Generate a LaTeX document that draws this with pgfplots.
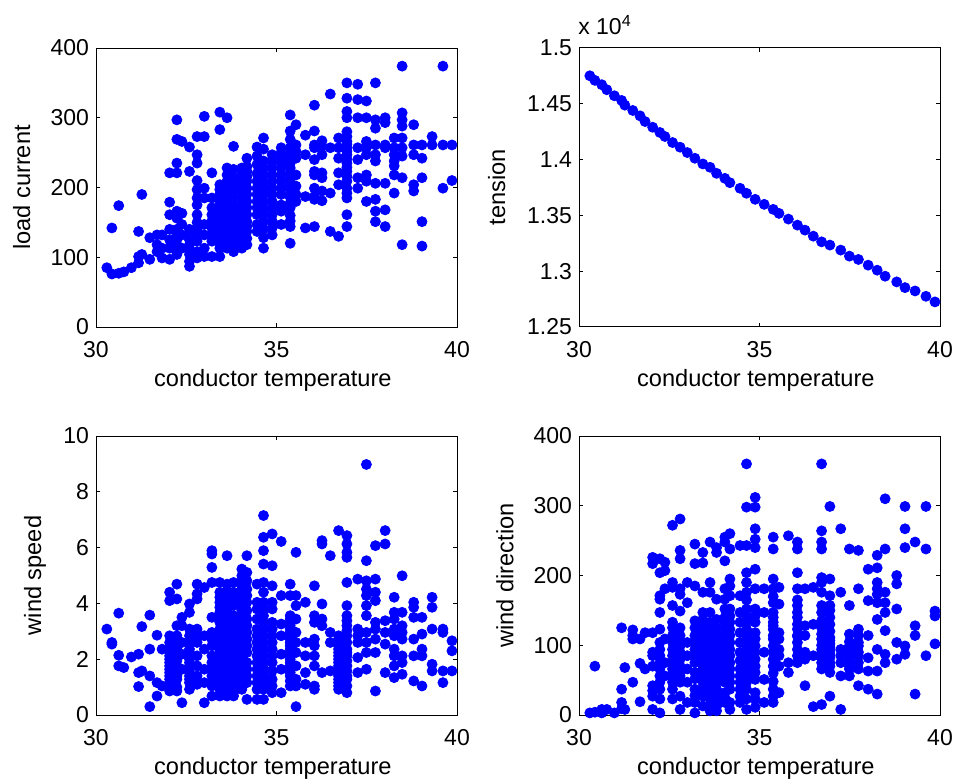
\documentclass[border=0pt]{standalone}
\usepackage{fontspec}
\setmainfont{Liberation Sans}
\usepackage{pgfplots}
\pgfplotsset{compat=1.18}

\pgfplotsset{
  panel/.style={
    scale only axis, width=180.5pt, height=139.5pt,
    anchor=south west, clip=false,
    xmin=30, xmax=40, xtick={30,35,40},
    tick align=inside, major tick length=2pt,
    axis line style={line width=0.5pt},
    every tick/.style={black, line width=0.5pt},
    /pgf/number format/assume math mode=true,
    tick label style={font=\fontsize{11.5}{13}\selectfont},
    xticklabel style={yshift=-3.5pt},
    label style={font=\fontsize{11.8}{14}\selectfont},
    xlabel={conductor temperature},
    xlabel style={at={(axis description cs:0.49,-0.19)}, anchor=center},
  },
  dots/.style={only marks, mark=*, mark size=2.5pt,
    mark options={draw=blue, fill=blue}},
}

\begin{document}
\begin{tikzpicture}
\useasboundingbox (0,0) rectangle (478pt,391pt);

% load current
\begin{axis}[panel, at={(48pt,227.5pt)},
  ymin=0, ymax=400, ytick={0,100,200,300,400},
  ylabel={load current},
  ylabel style={at={(axis description cs:-0.206,0.5)}, anchor=center}]
\addplot[dots] coordinates {
(30.30,85)
(30.44,76) (30.44,142)
(30.63,77) (30.63,174)
(30.77,79)
(30.98,85)
(31.18,92) (31.18,101) (31.18,137)
(31.27,104) (31.27,190)
(31.49,97) (31.49,128)
(31.69,132) (31.69,108) (31.69,118)
(31.83,132) (31.83,113) (31.83,99)
(32.04,221) (32.04,179) (32.04,161) (32.04,140) (32.04,125) (32.04,113) (32.04,97)
(32.24,297) (32.24,269) (32.24,235) (32.24,221) (32.24,166) (32.24,156) (32.24,132) (32.24,118) (32.24,104)
(32.38,266) (32.38,163) (32.38,147) (32.38,132) (32.38,113)
(32.59,258) (32.59,223) (32.59,132) (32.59,118) (32.59,104) (32.59,87) (32.59,94)
(32.80,273) (32.80,247) (32.80,235) (32.80,197) (32.80,175) (32.80,161) (32.80,140) (32.80,123) (32.80,108) (32.80,99)
(33.00,273) (33.00,302) (33.00,199) (33.00,185) (33.00,147) (33.00,132) (33.00,113) (33.00,101)
(33.21,221) (33.21,185) (33.21,161) (33.21,142) (33.21,123) (33.21,101)
(33.43,308) (33.43,283) (33.43,204) (33.43,190) (33.43,171) (33.43,156) (33.43,142) (33.43,128) (33.43,113) (33.43,101)
(33.63,300) (33.63,228) (33.63,209) (33.63,195) (33.63,175) (33.63,161) (33.63,147) (33.63,132) (33.63,113)
(33.81,259) (33.81,226) (33.81,214) (33.81,195) (33.81,175) (33.81,161) (33.81,142) (33.81,128) (33.81,108)
(34.04,228) (34.04,209) (34.04,195) (34.04,175) (34.04,156) (34.04,142) (34.04,123) (34.04,113)
(34.18,242) (34.18,223) (34.18,209) (34.18,190) (34.18,171) (34.18,151) (34.18,137) (34.18,118)
(34.46,258) (34.46,233) (34.46,209) (34.46,190) (34.46,171) (34.46,161) (34.46,137)
(34.64,271) (34.64,238) (34.64,218) (34.64,199) (34.64,180) (34.64,161) (34.64,151) (34.64,128) (34.64,113)
(34.88,247) (34.88,228) (34.88,209) (34.88,190) (34.88,171) (34.88,142) (34.88,132)
(35.13,257) (35.13,242) (35.13,228) (35.13,218) (35.13,209) (35.13,199) (35.13,166) (35.13,147)
(35.38,304) (35.38,281) (35.38,269) (35.38,257) (35.38,247) (35.38,235) (35.38,221) (35.38,204) (35.38,190) (35.38,178) (35.38,171) (35.38,144) (35.38,120)
(35.54,290) (35.54,261) (35.54,252) (35.54,242) (35.54,218) (35.54,202) (35.54,190) (35.54,180)
(35.80,275) (35.80,247) (35.80,187) (35.80,142)
(36.05,318) (36.05,281) (36.05,261) (36.05,257) (36.05,240) (36.05,223) (36.05,218) (36.05,199) (36.05,187) (36.05,183) (36.05,144)
(36.26,267) (36.26,259) (36.26,247) (36.26,221) (36.26,214) (36.26,195) (36.26,181)
(36.49,334) (36.49,257) (36.49,192) (36.49,137)
(36.72,271) (36.72,257) (36.72,242) (36.72,221) (36.72,204) (36.72,130)
(36.95,350) (36.95,328) (36.95,309) (36.95,300) (36.95,273) (36.95,266) (36.95,257) (36.95,247) (36.95,235) (36.95,223) (36.95,209) (36.95,199) (36.95,185) (36.95,161) (36.95,144)
(37.25,348) (37.25,326) (37.25,300) (37.25,257) (37.25,240) (37.25,214) (37.25,199)
(37.49,324) (37.49,300) (37.49,266) (37.49,257) (37.49,247) (37.49,218) (37.49,209) (37.49,180)
(37.74,350) (37.74,297) (37.74,285) (37.74,261) (37.74,247) (37.74,238) (37.74,206) (37.74,183) (37.74,166) (37.74,151)
(38.01,300) (38.01,293) (38.01,261) (38.01,257) (38.01,206) (38.01,168) (38.01,144)
(38.26,271) (38.26,257) (38.26,247) (38.26,238) (38.26,231) (38.26,218) (38.26,192)
(38.48,374) (38.48,307) (38.48,297) (38.48,288) (38.48,271) (38.48,257) (38.48,245) (38.48,214) (38.48,118)
(38.80,290) (38.80,261) (38.80,247) (38.80,204) (38.80,195)
(39.03,261) (39.03,242) (39.03,214) (39.03,151) (39.03,116)
(39.31,273) (39.31,261)
(39.61,374) (39.61,261) (39.61,199)
(39.86,261) (39.86,210)
};
% points hidden inside the dense columns
\addplot[dots] coordinates {
(32.24,110) (32.24,125) (32.24,140)
(32.59,110) (32.59,125) (32.59,140)
(32.80,130) (32.80,150) (32.80,185) (32.80,210)
(33.21,133) (33.21,152) (33.21,171)
(33.43,120) (33.43,135) (33.43,149) (33.43,163) (33.43,180) (33.43,197)
(33.63,122) (33.63,140) (33.63,154) (33.63,168) (33.63,185) (33.63,202) (33.63,218)
(33.81,118) (33.81,135) (33.81,150) (33.81,168) (33.81,185) (33.81,204)
(34.04,132) (34.04,149) (34.04,165) (34.04,185) (34.04,202) (34.04,218)
(34.18,127) (34.18,144) (34.18,161) (34.18,180) (34.18,199) (34.18,216) (34.18,230)
(34.46,147) (34.46,180) (34.46,199) (34.46,220) (34.46,245)
(34.64,140) (34.64,170) (34.64,190) (34.64,208) (34.64,228) (34.64,255)
(34.88,152) (34.88,161) (34.88,180) (34.88,199) (34.88,218) (34.88,237)
(35.13,175) (35.13,190) (35.13,235) (35.13,250)
(35.38,152) (35.38,160) (35.38,186) (35.38,197) (35.38,212) (35.38,228) (35.38,241)
(36.95,192) (36.95,216) (36.95,229) (36.95,241) (36.95,252) (36.95,262) (36.95,280)
};
\end{axis}

% tension
\begin{axis}[panel, at={(289.5pt,227.5pt)},
  ymin=1.25, ymax=1.5, ytick={1.25,1.3,1.35,1.4,1.45,1.5},
  yticklabel style={/pgf/number format/.cd, fixed, precision=2},
  scaled y ticks=false,
  ylabel={tension},
  ylabel style={at={(axis description cs:-0.228,0.5)}, anchor=center}]
\addplot[dots] coordinates {
(30.30,1.4751) (30.44,1.4710) (30.63,1.4671) (30.77,1.4626) (30.98,1.4572)
(31.18,1.4530) (31.27,1.4488) (31.49,1.4440) (31.69,1.4392) (31.83,1.4341)
(32.04,1.4290) (32.24,1.4243) (32.38,1.4207) (32.59,1.4153) (32.80,1.4111)
(33.00,1.4063) (33.21,1.4012) (33.43,1.3961) (33.63,1.3931) (33.81,1.3877)
(34.04,1.3832) (34.18,1.3793) (34.46,1.3743) (34.64,1.3698) (34.88,1.3644)
(35.13,1.3599) (35.38,1.3554) (35.54,1.3518) (35.80,1.3467) (36.05,1.3413)
(36.26,1.3368) (36.49,1.3314) (36.72,1.3263) (36.95,1.3234) (37.25,1.3189)
(37.49,1.3135) (37.74,1.3105) (38.01,1.3054) (38.26,1.3009) (38.48,1.2955)
(38.80,1.2904) (39.03,1.2853) (39.31,1.2823) (39.61,1.2775) (39.86,1.2725)
};
\node[anchor=base west, inner sep=0pt, font=\fontsize{11.5}{13}\selectfont]
  at (rel axis cs:-0.003,1.047) {x 10\textsuperscript{4}};
\end{axis}

% wind speed
\begin{axis}[panel, at={(48pt,33.5pt)},
  ymin=0, ymax=10, ytick={0,2,4,6,8,10},
  ylabel={wind speed},
  ylabel style={at={(axis description cs:-0.169,0.5)}, anchor=center}]
\addplot[dots] coordinates {
(30.30,3.08)
(30.44,2.60) (30.44,2.54)
(30.63,3.65) (30.63,2.14) (30.63,1.76)
(30.77,1.70)
(30.98,2.08)
(31.18,2.18) (31.18,1.52) (31.18,1.02)
(31.27,3.17) (31.27,1.58)
(31.49,3.58) (31.49,2.36) (31.49,1.40) (31.49,0.30)
(31.69,2.86) (31.69,1.16) (31.69,0.68)
(31.83,2.36) (31.83,1.04)
(32.04,4.40) (32.04,4.10) (32.04,2.84) (32.04,2.36) (32.04,2.12) (32.04,1.88) (32.04,1.64) (32.04,1.40) (32.04,1.16) (32.04,0.86)
(32.24,4.69) (32.24,4.16) (32.24,3.20) (32.24,2.84) (32.24,2.60) (32.24,2.36) (32.24,2.12) (32.24,1.76) (32.24,1.52) (32.24,1.28) (32.24,0.86)
(32.38,3.50) (32.38,3.20) (32.38,2.60) (32.38,2.18) (32.38,1.64) (32.38,0.44)
(32.59,3.98) (32.59,3.68) (32.59,3.08) (32.59,2.84) (32.59,2.36) (32.59,2.12) (32.59,1.88) (32.59,1.64) (32.59,1.40) (32.59,1.16) (32.59,0.92)
(32.80,4.69) (32.80,4.34) (32.80,4.16) (32.80,3.08) (32.80,2.84) (32.80,2.60) (32.80,2.12) (32.80,1.76) (32.80,1.40) (32.80,1.10)
(33.00,4.57) (33.00,2.84) (33.00,2.36) (33.00,1.64) (33.00,1.16) (33.00,0.44)
(33.21,5.89) (33.21,5.77) (33.21,5.29) (33.21,4.75) (33.21,3.50) (33.21,2.96) (33.21,2.48) (33.21,1.88) (33.21,1.40) (33.21,1.04) (33.21,0.68)
(33.43,4.75) (33.43,4.40) (33.43,4.04) (33.43,3.68) (33.43,3.32) (33.43,2.84) (33.43,2.48) (33.43,2.12) (33.43,1.64) (33.43,1.16) (33.43,0.68)
(33.63,5.71) (33.63,4.69) (33.63,4.28) (33.63,3.80) (33.63,3.44) (33.63,3.08) (33.63,2.60) (33.63,2.24) (33.63,1.76) (33.63,1.40) (33.63,0.92) (33.63,0.68)
(33.81,4.75) (33.81,4.40) (33.81,3.92) (33.81,3.32) (33.81,2.84) (33.81,2.36) (33.81,1.88) (33.81,1.40) (33.81,1.04) (33.81,0.68)
(34.04,5.23) (34.04,4.99) (34.04,4.63) (34.04,4.28) (34.04,3.92) (34.04,3.56) (34.04,3.20) (34.04,2.84) (34.04,2.48) (34.04,2.12) (34.04,1.76) (34.04,1.40) (34.04,0.92)
(34.18,5.71) (34.18,4.51) (34.18,4.04) (34.18,3.44) (34.18,2.96) (34.18,2.24) (34.18,1.64) (34.18,1.16) (34.18,0.56)
(34.46,4.69) (34.46,3.80) (34.46,3.44) (34.46,2.84) (34.46,2.36) (34.46,1.88) (34.46,1.40) (34.46,0.92) (34.46,0.56)
(34.64,7.15) (34.64,6.37) (34.64,5.89) (34.64,5.41) (34.64,4.75) (34.64,4.40) (34.64,3.80) (34.64,3.32) (34.64,2.84) (34.64,2.36) (34.64,1.88) (34.64,1.40) (34.64,0.92) (34.64,0.56)
(34.88,6.49) (34.88,5.35) (34.88,4.63) (34.88,4.04) (34.88,3.32) (34.88,2.84) (34.88,2.36) (34.88,1.88) (34.88,1.28) (34.88,0.80)
(35.13,6.22) (35.13,4.28) (35.13,3.26) (35.13,2.84) (35.13,2.18) (35.13,1.64) (35.13,0.80)
(35.38,4.69) (35.38,4.28) (35.38,3.56) (35.38,3.32) (35.38,3.08) (35.38,2.84) (35.38,2.60) (35.38,2.36) (35.38,2.12) (35.38,1.88) (35.38,1.64) (35.38,1.40) (35.38,1.04)
(35.54,5.83) (35.54,4.28) (35.54,3.92) (35.54,3.44) (35.54,2.96) (35.54,2.60) (35.54,2.24) (35.54,1.76) (35.54,1.28) (35.54,1.04) (35.54,0.30)
(35.80,4.04) (35.80,2.60) (35.80,2.12) (35.80,1.52) (35.80,1.10)
(36.05,4.63) (36.05,3.56) (36.05,3.32) (36.05,2.72) (36.05,2.48) (36.05,2.12) (36.05,1.76) (36.05,1.04) (36.05,0.92)
(36.26,6.25) (36.26,6.13) (36.26,3.98) (36.26,3.44) (36.26,3.20) (36.26,1.52)
(36.49,5.71) (36.49,2.96) (36.49,2.60) (36.49,1.58)
(36.72,6.61) (36.72,2.84) (36.72,2.60) (36.72,2.36) (36.72,2.12) (36.72,1.88) (36.72,1.64) (36.72,1.40) (36.72,1.16) (36.72,0.92)
(36.95,6.43) (36.95,6.13) (36.95,5.83) (36.95,5.65) (36.95,4.75) (36.95,3.92) (36.95,3.56) (36.95,3.20) (36.95,2.84) (36.95,2.36) (36.95,2.12) (36.95,1.76) (36.95,1.40) (36.95,0.80)
(37.25,4.87) (37.25,3.08) (37.25,2.84) (37.25,2.60) (37.25,2.06) (37.25,1.52)
(37.49,8.98) (37.49,5.53) (37.49,4.81) (37.49,4.51) (37.49,4.28) (37.49,3.92) (37.49,3.56) (37.49,2.96) (37.49,2.60) (37.49,2.24) (37.49,1.64)
(37.74,6.07) (37.74,4.87) (37.74,4.40) (37.74,4.10) (37.74,3.32) (37.74,3.08) (37.74,2.72) (37.74,2.24) (37.74,0.86)
(38.01,6.61) (38.01,6.13) (38.01,3.38) (38.01,2.96) (38.01,2.54) (38.01,1.52)
(38.26,4.22) (38.26,3.68) (38.26,3.44) (38.26,3.08) (38.26,2.84) (38.26,2.36) (38.26,2.12) (38.26,1.76) (38.26,1.34)
(38.48,4.99) (38.48,3.68) (38.48,3.20) (38.48,2.96) (38.48,2.72) (38.48,2.12) (38.48,1.88) (38.48,1.46)
(38.80,4.04) (38.80,3.86) (38.80,3.50) (38.80,2.72) (38.80,2.12) (38.80,1.22)
(39.03,3.50) (39.03,2.90) (39.03,2.36) (39.03,2.12) (39.03,1.04)
(39.31,4.22) (39.31,3.86) (39.31,3.08) (39.31,1.82) (39.31,1.58)
(39.61,3.08) (39.61,2.96) (39.61,1.58) (39.61,1.16)
(39.86,2.66) (39.86,2.30) (39.86,1.58)
};
% points hidden inside the dense columns
\addplot[dots] coordinates {
(32.04,1.28) (32.04,1.52) (32.04,1.76) (32.04,2.00) (32.04,2.24) (32.04,2.60)
(32.24,1.00) (32.24,1.40) (32.24,1.64) (32.24,1.94) (32.24,2.48)
(32.59,1.28) (32.59,1.52) (32.59,1.76) (32.59,2.00) (32.59,2.24) (32.59,2.60)
(33.21,2.12) (33.21,2.72) (33.21,1.64) (33.21,1.16)
(33.43,1.40) (33.43,1.88) (33.43,2.30) (33.43,2.66) (33.43,3.08) (33.43,3.50) (33.43,3.86) (33.43,4.22) (33.43,0.92)
(33.63,1.16) (33.63,1.58) (33.63,2.00) (33.63,2.42) (33.63,2.84) (33.63,3.26) (33.63,3.62) (33.63,4.04) (33.63,4.46)
(33.81,1.16) (33.81,1.64) (33.81,2.12) (33.81,2.60) (33.81,3.08) (33.81,3.56) (33.81,4.16) (33.81,0.80)
(34.04,1.16) (34.04,1.58) (34.04,1.94) (34.04,2.30) (34.04,2.66) (34.04,3.02) (34.04,3.38) (34.04,3.74) (34.04,4.10) (34.04,4.46) (34.04,4.81)
(34.18,1.40) (34.18,1.88) (34.18,2.48) (34.18,2.72) (34.18,3.20) (34.18,3.74) (34.18,4.28) (34.18,4.81) (34.18,5.11)
(34.46,1.16) (34.46,1.64) (34.46,2.12) (34.46,2.60) (34.46,3.08) (34.46,4.04)
(34.64,1.16) (34.64,1.64) (34.64,2.12) (34.64,2.60) (34.64,3.08) (34.64,3.56) (34.64,4.04)
(34.88,1.04) (34.88,1.58) (34.88,2.12) (34.88,2.60) (34.88,3.08) (34.88,3.80)
(35.38,1.22) (35.38,1.52) (35.38,1.76) (35.38,2.00) (35.38,2.24) (35.38,2.48) (35.38,2.72) (35.38,2.96) (35.38,3.20) (35.38,3.44)
(36.72,1.04) (36.72,1.28) (36.72,1.52) (36.72,1.76) (36.72,2.00) (36.72,2.24) (36.72,2.48) (36.72,2.72)
(36.95,1.04) (36.95,1.28) (36.95,1.58) (36.95,1.94) (36.95,2.24) (36.95,2.60) (36.95,3.02) (36.95,3.38)
};
\end{axis}

% wind direction
\begin{axis}[panel, at={(289.5pt,33.5pt)},
  ymin=0, ymax=400, ytick={0,100,200,300,400},
  ylabel={wind direction},
  ylabel style={at={(axis description cs:-0.205,0.5)}, anchor=center}]
\addplot[dots] coordinates {
(30.30,3)
(30.44,70) (30.44,4)
(30.63,8) (30.63,3)
(30.77,8)
(30.98,3)
(31.18,125) (31.18,37) (31.18,18) (31.18,9)
(31.27,68) (31.27,8)
(31.49,122) (31.49,114) (31.49,109) (31.49,47)
(31.69,109) (31.69,74) (31.69,19)
(31.83,118) (31.83,66)
(32.04,226) (32.04,217) (32.04,118) (32.04,90) (32.04,85) (32.04,70) (32.04,42) (32.04,35) (32.04,27) (32.04,8)
(32.24,224) (32.24,204) (32.24,171) (32.24,166) (32.24,147) (32.24,123) (32.24,94) (32.24,66) (32.24,56) (32.24,37) (32.24,23) (32.24,3)
(32.38,219) (32.38,207) (32.38,181) (32.38,109) (32.38,75) (32.38,56)
(32.59,272) (32.59,190) (32.59,183) (32.59,157) (32.59,133) (32.59,114) (32.59,94) (32.59,75) (32.59,66) (32.59,47) (32.59,37) (32.59,23)
(32.80,281) (32.80,236) (32.80,224) (32.80,181) (32.80,173) (32.80,149) (32.80,114) (32.80,90) (32.80,70) (32.80,56) (32.80,27) (32.80,8)
(33.00,190) (33.00,161) (33.00,104) (33.00,85) (33.00,66) (33.00,47) (33.00,18)
(33.21,245) (33.21,217) (33.21,185) (33.21,135) (33.21,114) (33.21,94) (33.21,75) (33.21,61) (33.21,37) (33.21,18) (33.21,3)
(33.43,233) (33.43,218) (33.43,176) (33.43,147) (33.43,118) (33.43,99) (33.43,85) (33.43,66) (33.43,47) (33.43,27) (33.43,13)
(33.63,248) (33.63,190) (33.63,176) (33.63,123) (33.63,114) (33.63,94) (33.63,75) (33.63,61) (33.63,42) (33.63,23) (33.63,6)
(33.81,240) (33.81,233) (33.81,166) (33.81,137) (33.81,114) (33.81,94) (33.81,75) (33.81,56) (33.81,37) (33.81,18) (33.81,6)
(34.04,255) (34.04,248) (34.04,221) (34.04,181) (34.04,166) (34.04,152) (34.04,133) (34.04,118) (34.04,104) (34.04,90) (34.04,75) (34.04,61) (34.04,47) (34.04,32) (34.04,18)
(34.18,260) (34.18,238) (34.18,195) (34.18,185) (34.18,171) (34.18,152) (34.18,123) (34.18,94) (34.18,75) (34.18,56) (34.18,37) (34.18,8)
(34.46,243) (34.46,171) (34.46,147) (34.46,118) (34.46,90) (34.46,66) (34.46,47) (34.46,27)
(34.64,360) (34.64,298) (34.64,243) (34.64,204) (34.64,190) (34.64,176) (34.64,152) (34.64,133) (34.64,114) (34.64,94) (34.64,75) (34.64,56) (34.64,37) (34.64,23) (34.64,8)
(34.88,312) (34.88,298) (34.88,267) (34.88,252) (34.88,240) (34.88,209) (34.88,181) (34.88,152) (34.88,133) (34.88,109) (34.88,90) (34.88,70) (34.88,51) (34.88,32) (34.88,11)
(35.13,181) (35.13,147) (35.13,90) (35.13,51) (35.13,18)
(35.38,255) (35.38,238) (35.38,195) (35.38,181) (35.38,161) (35.38,147) (35.38,133) (35.38,123) (35.38,109) (35.38,99) (35.38,90) (35.38,80) (35.38,70) (35.38,37) (35.38,27) (35.38,18)
(35.54,183) (35.54,159) (35.54,118) (35.54,109) (35.54,94) (35.54,85) (35.54,70) (35.54,32)
(35.80,257) (35.80,75) (35.80,61)
(36.05,248) (36.05,238) (36.05,204) (36.05,181) (36.05,157) (36.05,147) (36.05,130) (36.05,123) (36.05,104) (36.05,94) (36.05,85) (36.05,75)
(36.26,181) (36.26,128) (36.26,114) (36.26,90) (36.26,80) (36.26,42)
(36.49,183) (36.49,130) (36.49,85) (36.49,12)
(36.72,360) (36.72,264) (36.72,248) (36.72,238) (36.72,197) (36.72,190) (36.72,176) (36.72,157) (36.72,147) (36.72,116) (36.72,109) (36.72,94) (36.72,82) (36.72,75) (36.72,66) (36.72,15)
(36.95,299) (36.95,195) (36.95,171) (36.95,157) (36.95,140) (36.95,130) (36.95,111) (36.95,102) (36.95,92) (36.95,82) (36.95,70) (36.95,61) (36.95,27)
(37.25,267) (37.25,176) (37.25,94) (37.25,85) (37.25,75) (37.25,56) (37.25,8)
(37.49,238) (37.49,157) (37.49,116) (37.49,99) (37.49,90) (37.49,82) (37.49,75) (37.49,66) (37.49,56)
(37.74,236) (37.74,181) (37.74,123) (37.74,114) (37.74,99) (37.74,85) (37.74,66) (37.74,42)
(38.01,209) (38.01,164) (38.01,114) (38.01,82) (38.01,63) (38.01,37)
(38.26,229) (38.26,211) (38.26,190) (38.26,181) (38.26,173) (38.26,161) (38.26,137) (38.26,94) (38.26,63) (38.26,30)
(38.48,310) (38.48,238) (38.48,176) (38.48,161) (38.48,147) (38.48,121) (38.48,87) (38.48,75)
(38.80,200) (38.80,188) (38.80,152) (38.80,104) (38.80,80)
(39.03,299) (39.03,267) (39.03,240) (39.03,99) (39.03,87)
(39.31,248) (39.31,128) (39.31,114) (39.31,30)
(39.61,299) (39.61,238) (39.61,85)
(39.86,149) (39.86,142) (39.86,102)
};
% points hidden inside the dense columns
\addplot[dots] coordinates {
(32.24,47) (32.24,75) (32.24,85) (32.24,104)
(32.59,56) (32.59,85) (32.59,104) (32.59,125)
(32.80,47) (32.80,61) (32.80,80) (32.80,99) (32.80,104) (32.80,125)
(33.21,85) (33.21,104) (33.21,125) (33.21,52) (33.21,28)
(33.43,56) (33.43,75) (33.43,94) (33.43,108) (33.43,128) (33.43,137) (33.43,37)
(33.63,52) (33.63,66) (33.63,85) (33.63,104) (33.63,133) (33.63,147) (33.63,32) (33.63,14)
(33.81,47) (33.81,66) (33.81,85) (33.81,104) (33.81,125) (33.81,28) (33.81,12)
(34.04,54) (34.04,68) (34.04,82) (34.04,97) (34.04,111) (34.04,125) (34.04,140) (34.04,25)
(34.18,47) (34.18,66) (34.18,85) (34.18,104) (34.18,114) (34.18,133) (34.18,142) (34.18,18)
(34.46,56) (34.46,78) (34.46,104) (34.46,133) (34.46,37) (34.46,18)
(34.64,47) (34.64,66) (34.64,85) (34.64,104) (34.64,123) (34.64,142) (34.64,165)
(34.88,61) (34.88,80) (34.88,99) (34.88,118) (34.88,142) (34.88,23)
(35.38,48) (35.38,60) (35.38,114) (35.38,128) (35.38,140) (35.38,170)
(36.05,140) (36.05,114) (36.05,113) (36.05,165)
(36.72,100) (36.72,88) (36.72,125) (36.72,135)
(36.95,75) (36.95,87) (36.95,97) (36.95,107) (36.95,120) (36.95,150)
(37.49,70) (37.49,86) (37.49,95) (37.49,105)
(37.74,75) (37.74,90) (37.74,104)
};
\end{axis}
\end{tikzpicture}
\end{document}
